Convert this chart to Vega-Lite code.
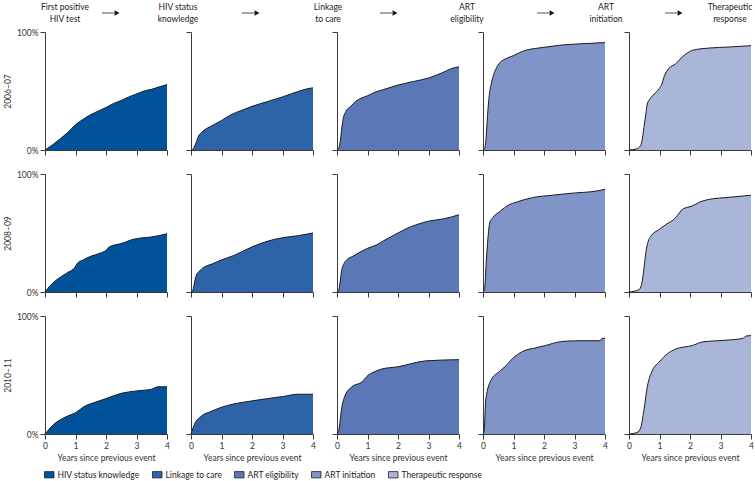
{
"$schema": "https://vega.github.io/schema/vega-lite/v6.json",
"padding": {"left": 3, "top": 0, "right": 0, "bottom": 0},
"background": "white",
"config": {
  "font": "Lato",
  "view": {"stroke": null},
  "axis": {"domainColor": "#3a3a3a", "tickColor": "#3a3a3a", "tickSize": 5, "labelColor": "#333", "labelFontSize": 8.5, "titleFontWeight": "normal", "titleFontSize": 8.5, "titleColor": "#333", "grid": false, "labelPadding": 2, "titlePadding": 4, "labelFlush": false},
  "legend": {"orient": "bottom", "direction": "horizontal", "title": null, "labelFontSize": 8.5, "labelColor": "#222", "symbolType": "M-1.5,-1L1.5,-1L1.5,1L-1.5,1Z", "symbolSize": 40, "symbolStrokeColor": "#222", "symbolStrokeWidth": 0.8, "symbolOpacity": 1, "columnPadding": 10, "offset": 8}
},
"resolve": {"scale": {"x": "independent"}},
"datasets": {
  "curves": [
{"period":"2006–07","stage":"HIV status knowledge","t":0,"p":0},{"period":"2006–07","stage":"HIV status knowledge","t":0.25,"p":0.045},{"period":"2006–07","stage":"HIV status knowledge","t":0.5,"p":0.095},{"period":"2006–07","stage":"HIV status knowledge","t":0.75,"p":0.15},{"period":"2006–07","stage":"HIV status knowledge","t":1,"p":0.215},{"period":"2006–07","stage":"HIV status knowledge","t":1.25,"p":0.26},{"period":"2006–07","stage":"HIV status knowledge","t":1.5,"p":0.3},{"period":"2006–07","stage":"HIV status knowledge","t":1.75,"p":0.33},{"period":"2006–07","stage":"HIV status knowledge","t":2,"p":0.36},{"period":"2006–07","stage":"HIV status knowledge","t":2.25,"p":0.395},{"period":"2006–07","stage":"HIV status knowledge","t":2.5,"p":0.42},{"period":"2006–07","stage":"HIV status knowledge","t":2.75,"p":0.45},{"period":"2006–07","stage":"HIV status knowledge","t":3,"p":0.475},{"period":"2006–07","stage":"HIV status knowledge","t":3.25,"p":0.5},{"period":"2006–07","stage":"HIV status knowledge","t":3.5,"p":0.515},{"period":"2006–07","stage":"HIV status knowledge","t":3.75,"p":0.535},{"period":"2006–07","stage":"HIV status knowledge","t":4,"p":0.555},
{"period":"2006–07","stage":"Linkage to care","t":0,"p":0},{"period":"2006–07","stage":"Linkage to care","t":0.05,"p":0.005},{"period":"2006–07","stage":"Linkage to care","t":0.15,"p":0.05},{"period":"2006–07","stage":"Linkage to care","t":0.25,"p":0.12},{"period":"2006–07","stage":"Linkage to care","t":0.35,"p":0.15},{"period":"2006–07","stage":"Linkage to care","t":0.5,"p":0.18},{"period":"2006–07","stage":"Linkage to care","t":0.75,"p":0.215},{"period":"2006–07","stage":"Linkage to care","t":1,"p":0.25},{"period":"2006–07","stage":"Linkage to care","t":1.25,"p":0.29},{"period":"2006–07","stage":"Linkage to care","t":1.5,"p":0.32},{"period":"2006–07","stage":"Linkage to care","t":1.75,"p":0.345},{"period":"2006–07","stage":"Linkage to care","t":2,"p":0.37},{"period":"2006–07","stage":"Linkage to care","t":2.5,"p":0.41},{"period":"2006–07","stage":"Linkage to care","t":3,"p":0.45},{"period":"2006–07","stage":"Linkage to care","t":3.5,"p":0.495},{"period":"2006–07","stage":"Linkage to care","t":3.75,"p":0.515},{"period":"2006–07","stage":"Linkage to care","t":4,"p":0.527},
{"period":"2006–07","stage":"ART eligibility","t":0,"p":0},{"period":"2006–07","stage":"ART eligibility","t":0.05,"p":0.01},{"period":"2006–07","stage":"ART eligibility","t":0.1,"p":0.06},{"period":"2006–07","stage":"ART eligibility","t":0.15,"p":0.17},{"period":"2006–07","stage":"ART eligibility","t":0.2,"p":0.26},{"period":"2006–07","stage":"ART eligibility","t":0.3,"p":0.33},{"period":"2006–07","stage":"ART eligibility","t":0.45,"p":0.37},{"period":"2006–07","stage":"ART eligibility","t":0.6,"p":0.41},{"period":"2006–07","stage":"ART eligibility","t":0.8,"p":0.44},{"period":"2006–07","stage":"ART eligibility","t":1,"p":0.46},{"period":"2006–07","stage":"ART eligibility","t":1.25,"p":0.49},{"period":"2006–07","stage":"ART eligibility","t":1.5,"p":0.51},{"period":"2006–07","stage":"ART eligibility","t":2,"p":0.55},{"period":"2006–07","stage":"ART eligibility","t":2.5,"p":0.58},{"period":"2006–07","stage":"ART eligibility","t":3,"p":0.61},{"period":"2006–07","stage":"ART eligibility","t":3.5,"p":0.66},{"period":"2006–07","stage":"ART eligibility","t":3.75,"p":0.69},{"period":"2006–07","stage":"ART eligibility","t":4,"p":0.705},
{"period":"2006–07","stage":"ART initiation","t":0,"p":0},{"period":"2006–07","stage":"ART initiation","t":0.05,"p":0.01},{"period":"2006–07","stage":"ART initiation","t":0.1,"p":0.1},{"period":"2006–07","stage":"ART initiation","t":0.15,"p":0.3},{"period":"2006–07","stage":"ART initiation","t":0.2,"p":0.45},{"period":"2006–07","stage":"ART initiation","t":0.27,"p":0.56},{"period":"2006–07","stage":"ART initiation","t":0.35,"p":0.64},{"period":"2006–07","stage":"ART initiation","t":0.43,"p":0.69},{"period":"2006–07","stage":"ART initiation","t":0.55,"p":0.74},{"period":"2006–07","stage":"ART initiation","t":0.65,"p":0.76},{"period":"2006–07","stage":"ART initiation","t":0.8,"p":0.78},{"period":"2006–07","stage":"ART initiation","t":1,"p":0.8},{"period":"2006–07","stage":"ART initiation","t":1.2,"p":0.825},{"period":"2006–07","stage":"ART initiation","t":1.4,"p":0.845},{"period":"2006–07","stage":"ART initiation","t":1.7,"p":0.86},{"period":"2006–07","stage":"ART initiation","t":2,"p":0.87},{"period":"2006–07","stage":"ART initiation","t":2.6,"p":0.89},{"period":"2006–07","stage":"ART initiation","t":3.2,"p":0.9},{"period":"2006–07","stage":"ART initiation","t":4,"p":0.91},
{"period":"2006–07","stage":"Therapeutic response","t":0,"p":0},{"period":"2006–07","stage":"Therapeutic response","t":0.25,"p":0.01},{"period":"2006–07","stage":"Therapeutic response","t":0.38,"p":0.037},{"period":"2006–07","stage":"Therapeutic response","t":0.44,"p":0.1},{"period":"2006–07","stage":"Therapeutic response","t":0.49,"p":0.19},{"period":"2006–07","stage":"Therapeutic response","t":0.55,"p":0.3},{"period":"2006–07","stage":"Therapeutic response","t":0.6,"p":0.39},{"period":"2006–07","stage":"Therapeutic response","t":0.68,"p":0.43},{"period":"2006–07","stage":"Therapeutic response","t":0.77,"p":0.46},{"period":"2006–07","stage":"Therapeutic response","t":0.99,"p":0.52},{"period":"2006–07","stage":"Therapeutic response","t":1.08,"p":0.56},{"period":"2006–07","stage":"Therapeutic response","t":1.15,"p":0.62},{"period":"2006–07","stage":"Therapeutic response","t":1.3,"p":0.69},{"period":"2006–07","stage":"Therapeutic response","t":1.53,"p":0.73},{"period":"2006–07","stage":"Therapeutic response","t":1.75,"p":0.79},{"period":"2006–07","stage":"Therapeutic response","t":1.9,"p":0.82},{"period":"2006–07","stage":"Therapeutic response","t":2.08,"p":0.845},{"period":"2006–07","stage":"Therapeutic response","t":2.63,"p":0.864},{"period":"2006–07","stage":"Therapeutic response","t":3.29,"p":0.873},{"period":"2006–07","stage":"Therapeutic response","t":4,"p":0.884},
{"period":"2008–09","stage":"HIV status knowledge","t":0,"p":0},{"period":"2008–09","stage":"HIV status knowledge","t":0.17,"p":0.054},{"period":"2008–09","stage":"HIV status knowledge","t":0.39,"p":0.105},{"period":"2008–09","stage":"HIV status knowledge","t":0.72,"p":0.161},{"period":"2008–09","stage":"HIV status knowledge","t":0.99,"p":0.212},{"period":"2008–09","stage":"HIV status knowledge","t":1.07,"p":0.246},{"period":"2008–09","stage":"HIV status knowledge","t":1.27,"p":0.274},{"period":"2008–09","stage":"HIV status knowledge","t":1.49,"p":0.302},{"period":"2008–09","stage":"HIV status knowledge","t":1.82,"p":0.33},{"period":"2008–09","stage":"HIV status knowledge","t":2,"p":0.353},{"period":"2008–09","stage":"HIV status knowledge","t":2.1,"p":0.381},{"period":"2008–09","stage":"HIV status knowledge","t":2.49,"p":0.41},{"period":"2008–09","stage":"HIV status knowledge","t":2.93,"p":0.449},{"period":"2008–09","stage":"HIV status knowledge","t":3.15,"p":0.458},{"period":"2008–09","stage":"HIV status knowledge","t":3.48,"p":0.466},{"period":"2008–09","stage":"HIV status knowledge","t":4,"p":0.494},
{"period":"2008–09","stage":"Linkage to care","t":0,"p":0},{"period":"2008–09","stage":"Linkage to care","t":0.05,"p":0.01},{"period":"2008–09","stage":"Linkage to care","t":0.16,"p":0.13},{"period":"2008–09","stage":"Linkage to care","t":0.33,"p":0.19},{"period":"2008–09","stage":"Linkage to care","t":0.76,"p":0.245},{"period":"2008–09","stage":"Linkage to care","t":0.98,"p":0.27},{"period":"2008–09","stage":"Linkage to care","t":1.41,"p":0.31},{"period":"2008–09","stage":"Linkage to care","t":1.98,"p":0.38},{"period":"2008–09","stage":"Linkage to care","t":2.5,"p":0.43},{"period":"2008–09","stage":"Linkage to care","t":3,"p":0.46},{"period":"2008–09","stage":"Linkage to care","t":3.5,"p":0.477},{"period":"2008–09","stage":"Linkage to care","t":4,"p":0.5},
{"period":"2008–09","stage":"ART eligibility","t":0,"p":0},{"period":"2008–09","stage":"ART eligibility","t":0.05,"p":0.01},{"period":"2008–09","stage":"ART eligibility","t":0.1,"p":0.08},{"period":"2008–09","stage":"ART eligibility","t":0.15,"p":0.18},{"period":"2008–09","stage":"ART eligibility","t":0.25,"p":0.25},{"period":"2008–09","stage":"ART eligibility","t":0.35,"p":0.28},{"period":"2008–09","stage":"ART eligibility","t":0.5,"p":0.3},{"period":"2008–09","stage":"ART eligibility","t":0.7,"p":0.33},{"period":"2008–09","stage":"ART eligibility","t":1,"p":0.37},{"period":"2008–09","stage":"ART eligibility","t":1.3,"p":0.4},{"period":"2008–09","stage":"ART eligibility","t":1.5,"p":0.43},{"period":"2008–09","stage":"ART eligibility","t":2,"p":0.5},{"period":"2008–09","stage":"ART eligibility","t":2.3,"p":0.54},{"period":"2008–09","stage":"ART eligibility","t":2.6,"p":0.57},{"period":"2008–09","stage":"ART eligibility","t":3,"p":0.6},{"period":"2008–09","stage":"ART eligibility","t":3.5,"p":0.62},{"period":"2008–09","stage":"ART eligibility","t":4,"p":0.655},
{"period":"2008–09","stage":"ART initiation","t":0,"p":0},{"period":"2008–09","stage":"ART initiation","t":0.05,"p":0.02},{"period":"2008–09","stage":"ART initiation","t":0.11,"p":0.27},{"period":"2008–09","stage":"ART initiation","t":0.16,"p":0.45},{"period":"2008–09","stage":"ART initiation","t":0.22,"p":0.585},{"period":"2008–09","stage":"ART initiation","t":0.32,"p":0.63},{"period":"2008–09","stage":"ART initiation","t":0.54,"p":0.68},{"period":"2008–09","stage":"ART initiation","t":0.86,"p":0.74},{"period":"2008–09","stage":"ART initiation","t":1.08,"p":0.76},{"period":"2008–09","stage":"ART initiation","t":1.62,"p":0.8},{"period":"2008–09","stage":"ART initiation","t":2.27,"p":0.82},{"period":"2008–09","stage":"ART initiation","t":3.03,"p":0.84},{"period":"2008–09","stage":"ART initiation","t":3.57,"p":0.85},{"period":"2008–09","stage":"ART initiation","t":4,"p":0.87},
{"period":"2008–09","stage":"Therapeutic response","t":0,"p":0},{"period":"2008–09","stage":"Therapeutic response","t":0.33,"p":0.02},{"period":"2008–09","stage":"Therapeutic response","t":0.44,"p":0.1},{"period":"2008–09","stage":"Therapeutic response","t":0.5,"p":0.22},{"period":"2008–09","stage":"Therapeutic response","t":0.55,"p":0.33},{"period":"2008–09","stage":"Therapeutic response","t":0.63,"p":0.43},{"period":"2008–09","stage":"Therapeutic response","t":0.71,"p":0.47},{"period":"2008–09","stage":"Therapeutic response","t":0.99,"p":0.53},{"period":"2008–09","stage":"Therapeutic response","t":1.2,"p":0.57},{"period":"2008–09","stage":"Therapeutic response","t":1.53,"p":0.63},{"period":"2008–09","stage":"Therapeutic response","t":1.65,"p":0.67},{"period":"2008–09","stage":"Therapeutic response","t":1.75,"p":0.7},{"period":"2008–09","stage":"Therapeutic response","t":2.08,"p":0.73},{"period":"2008–09","stage":"Therapeutic response","t":2.3,"p":0.76},{"period":"2008–09","stage":"Therapeutic response","t":2.74,"p":0.79},{"period":"2008–09","stage":"Therapeutic response","t":3.18,"p":0.8},{"period":"2008–09","stage":"Therapeutic response","t":4,"p":0.82},
{"period":"2010–11","stage":"HIV status knowledge","t":0,"p":0},{"period":"2010–11","stage":"HIV status knowledge","t":0.28,"p":0.08},{"period":"2010–11","stage":"HIV status knowledge","t":0.72,"p":0.15},{"period":"2010–11","stage":"HIV status knowledge","t":1,"p":0.18},{"period":"2010–11","stage":"HIV status knowledge","t":1.27,"p":0.23},{"period":"2010–11","stage":"HIV status knowledge","t":1.71,"p":0.275},{"period":"2010–11","stage":"HIV status knowledge","t":2,"p":0.3},{"period":"2010–11","stage":"HIV status knowledge","t":2.5,"p":0.345},{"period":"2010–11","stage":"HIV status knowledge","t":3,"p":0.365},{"period":"2010–11","stage":"HIV status knowledge","t":3.5,"p":0.38},{"period":"2010–11","stage":"HIV status knowledge","t":3.7,"p":0.4},{"period":"2010–11","stage":"HIV status knowledge","t":4,"p":0.4},
{"period":"2010–11","stage":"Linkage to care","t":0,"p":0},{"period":"2010–11","stage":"Linkage to care","t":0.11,"p":0.08},{"period":"2010–11","stage":"Linkage to care","t":0.33,"p":0.15},{"period":"2010–11","stage":"Linkage to care","t":0.65,"p":0.19},{"period":"2010–11","stage":"Linkage to care","t":0.98,"p":0.225},{"period":"2010–11","stage":"Linkage to care","t":1.41,"p":0.255},{"period":"2010–11","stage":"Linkage to care","t":1.98,"p":0.28},{"period":"2010–11","stage":"Linkage to care","t":2.5,"p":0.3},{"period":"2010–11","stage":"Linkage to care","t":3,"p":0.317},{"period":"2010–11","stage":"Linkage to care","t":3.5,"p":0.337},{"period":"2010–11","stage":"Linkage to care","t":4,"p":0.337},
{"period":"2010–11","stage":"ART eligibility","t":0,"p":0},{"period":"2010–11","stage":"ART eligibility","t":0.05,"p":0.02},{"period":"2010–11","stage":"ART eligibility","t":0.16,"p":0.23},{"period":"2010–11","stage":"ART eligibility","t":0.27,"p":0.33},{"period":"2010–11","stage":"ART eligibility","t":0.49,"p":0.4},{"period":"2010–11","stage":"ART eligibility","t":0.81,"p":0.44},{"period":"2010–11","stage":"ART eligibility","t":1.03,"p":0.5},{"period":"2010–11","stage":"ART eligibility","t":1.3,"p":0.535},{"period":"2010–11","stage":"ART eligibility","t":1.46,"p":0.55},{"period":"2010–11","stage":"ART eligibility","t":2,"p":0.57},{"period":"2010–11","stage":"ART eligibility","t":2.92,"p":0.62},{"period":"2010–11","stage":"ART eligibility","t":4,"p":0.63},
{"period":"2010–11","stage":"ART initiation","t":0,"p":0},{"period":"2010–11","stage":"ART initiation","t":0.04,"p":0.03},{"period":"2010–11","stage":"ART initiation","t":0.09,"p":0.29},{"period":"2010–11","stage":"ART initiation","t":0.27,"p":0.46},{"period":"2010–11","stage":"ART initiation","t":0.54,"p":0.53},{"period":"2010–11","stage":"ART initiation","t":0.76,"p":0.58},{"period":"2010–11","stage":"ART initiation","t":0.97,"p":0.64},{"period":"2010–11","stage":"ART initiation","t":1.3,"p":0.7},{"period":"2010–11","stage":"ART initiation","t":1.73,"p":0.73},{"period":"2010–11","stage":"ART initiation","t":2.05,"p":0.75},{"period":"2010–11","stage":"ART initiation","t":2.49,"p":0.78},{"period":"2010–11","stage":"ART initiation","t":3.03,"p":0.79},{"period":"2010–11","stage":"ART initiation","t":3.84,"p":0.79},{"period":"2010–11","stage":"ART initiation","t":3.9,"p":0.81},{"period":"2010–11","stage":"ART initiation","t":4,"p":0.81},
{"period":"2010–11","stage":"Therapeutic response","t":0,"p":0},{"period":"2010–11","stage":"Therapeutic response","t":0.27,"p":0.014},{"period":"2010–11","stage":"Therapeutic response","t":0.38,"p":0.05},{"period":"2010–11","stage":"Therapeutic response","t":0.49,"p":0.205},{"period":"2010–11","stage":"Therapeutic response","t":0.6,"p":0.4},{"period":"2010–11","stage":"Therapeutic response","t":0.77,"p":0.54},{"period":"2010–11","stage":"Therapeutic response","t":0.99,"p":0.61},{"period":"2010–11","stage":"Therapeutic response","t":1.26,"p":0.68},{"period":"2010–11","stage":"Therapeutic response","t":1.53,"p":0.72},{"period":"2010–11","stage":"Therapeutic response","t":2.08,"p":0.75},{"period":"2010–11","stage":"Therapeutic response","t":2.41,"p":0.78},{"period":"2010–11","stage":"Therapeutic response","t":3.18,"p":0.795},{"period":"2010–11","stage":"Therapeutic response","t":3.73,"p":0.81},{"period":"2010–11","stage":"Therapeutic response","t":3.84,"p":0.83},{"period":"2010–11","stage":"Therapeutic response","t":4,"p":0.834}
  ],
  "header": [
    {"col":1,"slot":"start","label":["First positive","HIV test"]},{"col":1,"slot":"mid"},
    {"col":2,"slot":"start","label":["HIV status","knowledge"]},{"col":2,"slot":"mid"},
    {"col":3,"slot":"start","label":["Linkage","to care"]},{"col":3,"slot":"mid"},
    {"col":4,"slot":"start","label":["ART","eligibility"]},{"col":4,"slot":"mid"},
    {"col":5,"slot":"start","label":["ART","initiation"]},{"col":5,"slot":"mid"},
    {"col":5,"slot":"end","label":["Therapeutic","response"]}
  ]
},
"data": {"name": "curves"},
"columns": 5,
"bounds": "flush",
"spacing": {"row": 24, "column": 24},
"concat": [
  {"width":122,"height":8,"data":{"name":"header"},"transform":[{"filter":"datum.col === 1"}],"encoding":{"x":{"field":"slot","type":"nominal","scale":{"type":"point","domain":["start","mid","end"],"padding":0},"axis":null}},"layer":[
    {"transform":[{"filter":"datum.slot === 'start'"}],"mark":{"type":"text","align":"center","baseline":"middle","fontSize":8.5,"lineHeight":12,"color":"#222","dy":3,"dx":20},"encoding":{"text":{"field":"label"}}},
    {"transform":[{"filter":"datum.slot === 'mid'"}],"mark":{"type":"rule","color":"#777","strokeWidth":1.3,"xOffset":-4,"x2Offset":8,"yOffset":9},"encoding":{"x2":{"field":"slot"}}},
    {"transform":[{"filter":"datum.slot === 'mid'"}],"mark":{"type":"point","shape":"triangle-right","filled":true,"color":"#111","opacity":1,"size":32,"xOffset":11,"yOffset":9},"encoding":{}}]},
  {"width":122,"height":8,"data":{"name":"header"},"transform":[{"filter":"datum.col === 2"}],"encoding":{"x":{"field":"slot","type":"nominal","scale":{"type":"point","domain":["start","mid","end"],"padding":0},"axis":null}},"layer":[
    {"transform":[{"filter":"datum.slot === 'start'"}],"mark":{"type":"text","align":"center","baseline":"middle","fontSize":8.5,"lineHeight":12,"color":"#222","dy":3,"dx":-13},"encoding":{"text":{"field":"label"}}},
    {"transform":[{"filter":"datum.slot === 'mid'"}],"mark":{"type":"rule","color":"#777","strokeWidth":1.3,"xOffset":-10,"x2Offset":2,"yOffset":9},"encoding":{"x2":{"field":"slot"}}},
    {"transform":[{"filter":"datum.slot === 'mid'"}],"mark":{"type":"point","shape":"triangle-right","filled":true,"color":"#111","opacity":1,"size":32,"xOffset":5,"yOffset":9},"encoding":{}}]},
  {"width":122,"height":8,"data":{"name":"header"},"transform":[{"filter":"datum.col === 3"}],"encoding":{"x":{"field":"slot","type":"nominal","scale":{"type":"point","domain":["start","mid","end"],"padding":0},"axis":null}},"layer":[
    {"transform":[{"filter":"datum.slot === 'start'"}],"mark":{"type":"text","align":"center","baseline":"middle","fontSize":8.5,"lineHeight":12,"color":"#222","dy":3,"dx":-9},"encoding":{"text":{"field":"label"}}},
    {"transform":[{"filter":"datum.slot === 'mid'"}],"mark":{"type":"rule","color":"#777","strokeWidth":1.3,"xOffset":-18,"x2Offset":-6,"yOffset":9},"encoding":{"x2":{"field":"slot"}}},
    {"transform":[{"filter":"datum.slot === 'mid'"}],"mark":{"type":"point","shape":"triangle-right","filled":true,"color":"#111","opacity":1,"size":32,"xOffset":-3,"yOffset":9},"encoding":{}}]},
  {"width":122,"height":8,"data":{"name":"header"},"transform":[{"filter":"datum.col === 4"}],"encoding":{"x":{"field":"slot","type":"nominal","scale":{"type":"point","domain":["start","mid","end"],"padding":0},"axis":null}},"layer":[
    {"transform":[{"filter":"datum.slot === 'start'"}],"mark":{"type":"text","align":"center","baseline":"middle","fontSize":8.5,"lineHeight":12,"color":"#222","dy":3,"dx":-16},"encoding":{"text":{"field":"label"}}},
    {"transform":[{"filter":"datum.slot === 'mid'"}],"mark":{"type":"rule","color":"#777","strokeWidth":1.3,"xOffset":-7,"x2Offset":5,"yOffset":9},"encoding":{"x2":{"field":"slot"}}},
    {"transform":[{"filter":"datum.slot === 'mid'"}],"mark":{"type":"point","shape":"triangle-right","filled":true,"color":"#111","opacity":1,"size":32,"xOffset":8,"yOffset":9},"encoding":{}}]},
  {"width":122,"height":8,"data":{"name":"header"},"transform":[{"filter":"datum.col === 5"}],"encoding":{"x":{"field":"slot","type":"nominal","scale":{"type":"point","domain":["start","mid","end"],"padding":0},"axis":null}},"layer":[
    {"transform":[{"filter":"datum.slot === 'start'"}],"mark":{"type":"text","align":"center","baseline":"middle","fontSize":8.5,"lineHeight":12,"color":"#222","dy":3,"dx":-23},"encoding":{"text":{"field":"label"}}},
    {"transform":[{"filter":"datum.slot === 'end'"}],"mark":{"type":"text","align":"center","baseline":"middle","fontSize":8.5,"lineHeight":12,"color":"#222","dy":3,"dx":-21},"encoding":{"text":{"field":"label"}}},
    {"transform":[{"filter":"datum.slot === 'mid'"}],"mark":{"type":"rule","color":"#777","strokeWidth":1.3,"xOffset":-25,"x2Offset":-13,"yOffset":9},"encoding":{"x2":{"field":"slot"}}},
    {"transform":[{"filter":"datum.slot === 'mid'"}],"mark":{"type":"point","shape":"triangle-right","filled":true,"color":"#111","opacity":1,"size":32,"xOffset":-10,"yOffset":9},"encoding":{}}]},

  {"width":122,"height":118,"transform":[{"filter":"datum.period === '2006–07' && datum.stage === 'HIV status knowledge'"}],"encoding":{"x":{"field":"t","type":"quantitative","scale":{"domain":[0,4],"nice":false},"axis":{"values":[0,1,2,3,4],"labels":false,"title":null}},"y":{"field":"p","type":"quantitative","scale":{"domain":[0,1],"nice":false},"axis":{"values":[0,1],"format":".0%","title":"2006–07"}}},"layer":[{"mark":{"type":"area","opacity":1,"interpolate":"monotone"},"encoding":{"color":{"field":"stage","type":"nominal","scale":{"domain":["HIV status knowledge","Linkage to care","ART eligibility","ART initiation","Therapeutic response"],"range":["#00529b","#2f63a8","#5a77b6","#8094c7","#a9b5d9"]}}}},{"mark":{"type":"line","color":"#1c1c1c","strokeWidth":1,"interpolate":"monotone"},"encoding":{}}]},
  {"width":122,"height":118,"transform":[{"filter":"datum.period === '2006–07' && datum.stage === 'Linkage to care'"}],"encoding":{"x":{"field":"t","type":"quantitative","scale":{"domain":[0,4],"nice":false},"axis":{"values":[0,1,2,3,4],"labels":false,"title":null}},"y":{"field":"p","type":"quantitative","scale":{"domain":[0,1],"nice":false},"axis":{"values":[0,1],"labels":false,"title":null}}},"layer":[{"mark":{"type":"area","opacity":1,"interpolate":"monotone"},"encoding":{"color":{"field":"stage","type":"nominal","scale":{"domain":["HIV status knowledge","Linkage to care","ART eligibility","ART initiation","Therapeutic response"],"range":["#00529b","#2f63a8","#5a77b6","#8094c7","#a9b5d9"]}}}},{"mark":{"type":"line","color":"#1c1c1c","strokeWidth":1,"interpolate":"monotone"},"encoding":{}}]},
  {"width":122,"height":118,"transform":[{"filter":"datum.period === '2006–07' && datum.stage === 'ART eligibility'"}],"encoding":{"x":{"field":"t","type":"quantitative","scale":{"domain":[0,4],"nice":false},"axis":{"values":[0,1,2,3,4],"labels":false,"title":null}},"y":{"field":"p","type":"quantitative","scale":{"domain":[0,1],"nice":false},"axis":{"values":[0,1],"labels":false,"title":null}}},"layer":[{"mark":{"type":"area","opacity":1,"interpolate":"monotone"},"encoding":{"color":{"field":"stage","type":"nominal","scale":{"domain":["HIV status knowledge","Linkage to care","ART eligibility","ART initiation","Therapeutic response"],"range":["#00529b","#2f63a8","#5a77b6","#8094c7","#a9b5d9"]}}}},{"mark":{"type":"line","color":"#1c1c1c","strokeWidth":1,"interpolate":"monotone"},"encoding":{}}]},
  {"width":122,"height":118,"transform":[{"filter":"datum.period === '2006–07' && datum.stage === 'ART initiation'"}],"encoding":{"x":{"field":"t","type":"quantitative","scale":{"domain":[0,4],"nice":false},"axis":{"values":[0,1,2,3,4],"labels":false,"title":null}},"y":{"field":"p","type":"quantitative","scale":{"domain":[0,1],"nice":false},"axis":{"values":[0,1],"labels":false,"title":null}}},"layer":[{"mark":{"type":"area","opacity":1,"interpolate":"monotone"},"encoding":{"color":{"field":"stage","type":"nominal","scale":{"domain":["HIV status knowledge","Linkage to care","ART eligibility","ART initiation","Therapeutic response"],"range":["#00529b","#2f63a8","#5a77b6","#8094c7","#a9b5d9"]}}}},{"mark":{"type":"line","color":"#1c1c1c","strokeWidth":1,"interpolate":"monotone"},"encoding":{}}]},
  {"width":122,"height":118,"transform":[{"filter":"datum.period === '2006–07' && datum.stage === 'Therapeutic response'"}],"encoding":{"x":{"field":"t","type":"quantitative","scale":{"domain":[0,4],"nice":false},"axis":{"values":[0,1,2,3,4],"labels":false,"title":null}},"y":{"field":"p","type":"quantitative","scale":{"domain":[0,1],"nice":false},"axis":{"values":[0,1],"labels":false,"title":null}}},"layer":[{"mark":{"type":"area","opacity":1,"interpolate":"monotone"},"encoding":{"color":{"field":"stage","type":"nominal","scale":{"domain":["HIV status knowledge","Linkage to care","ART eligibility","ART initiation","Therapeutic response"],"range":["#00529b","#2f63a8","#5a77b6","#8094c7","#a9b5d9"]}}}},{"mark":{"type":"line","color":"#1c1c1c","strokeWidth":1,"interpolate":"monotone"},"encoding":{}}]},

  {"width":122,"height":118,"transform":[{"filter":"datum.period === '2008–09' && datum.stage === 'HIV status knowledge'"}],"encoding":{"x":{"field":"t","type":"quantitative","scale":{"domain":[0,4],"nice":false},"axis":{"values":[0,1,2,3,4],"labels":false,"title":null}},"y":{"field":"p","type":"quantitative","scale":{"domain":[0,1],"nice":false},"axis":{"values":[0,1],"format":".0%","title":"2008–09"}}},"layer":[{"mark":{"type":"area","opacity":1,"interpolate":"monotone"},"encoding":{"color":{"field":"stage","type":"nominal","scale":{"domain":["HIV status knowledge","Linkage to care","ART eligibility","ART initiation","Therapeutic response"],"range":["#00529b","#2f63a8","#5a77b6","#8094c7","#a9b5d9"]}}}},{"mark":{"type":"line","color":"#1c1c1c","strokeWidth":1,"interpolate":"monotone"},"encoding":{}}]},
  {"width":122,"height":118,"transform":[{"filter":"datum.period === '2008–09' && datum.stage === 'Linkage to care'"}],"encoding":{"x":{"field":"t","type":"quantitative","scale":{"domain":[0,4],"nice":false},"axis":{"values":[0,1,2,3,4],"labels":false,"title":null}},"y":{"field":"p","type":"quantitative","scale":{"domain":[0,1],"nice":false},"axis":{"values":[0,1],"labels":false,"title":null}}},"layer":[{"mark":{"type":"area","opacity":1,"interpolate":"monotone"},"encoding":{"color":{"field":"stage","type":"nominal","scale":{"domain":["HIV status knowledge","Linkage to care","ART eligibility","ART initiation","Therapeutic response"],"range":["#00529b","#2f63a8","#5a77b6","#8094c7","#a9b5d9"]}}}},{"mark":{"type":"line","color":"#1c1c1c","strokeWidth":1,"interpolate":"monotone"},"encoding":{}}]},
  {"width":122,"height":118,"transform":[{"filter":"datum.period === '2008–09' && datum.stage === 'ART eligibility'"}],"encoding":{"x":{"field":"t","type":"quantitative","scale":{"domain":[0,4],"nice":false},"axis":{"values":[0,1,2,3,4],"labels":false,"title":null}},"y":{"field":"p","type":"quantitative","scale":{"domain":[0,1],"nice":false},"axis":{"values":[0,1],"labels":false,"title":null}}},"layer":[{"mark":{"type":"area","opacity":1,"interpolate":"monotone"},"encoding":{"color":{"field":"stage","type":"nominal","scale":{"domain":["HIV status knowledge","Linkage to care","ART eligibility","ART initiation","Therapeutic response"],"range":["#00529b","#2f63a8","#5a77b6","#8094c7","#a9b5d9"]}}}},{"mark":{"type":"line","color":"#1c1c1c","strokeWidth":1,"interpolate":"monotone"},"encoding":{}}]},
  {"width":122,"height":118,"transform":[{"filter":"datum.period === '2008–09' && datum.stage === 'ART initiation'"}],"encoding":{"x":{"field":"t","type":"quantitative","scale":{"domain":[0,4],"nice":false},"axis":{"values":[0,1,2,3,4],"labels":false,"title":null}},"y":{"field":"p","type":"quantitative","scale":{"domain":[0,1],"nice":false},"axis":{"values":[0,1],"labels":false,"title":null}}},"layer":[{"mark":{"type":"area","opacity":1,"interpolate":"monotone"},"encoding":{"color":{"field":"stage","type":"nominal","scale":{"domain":["HIV status knowledge","Linkage to care","ART eligibility","ART initiation","Therapeutic response"],"range":["#00529b","#2f63a8","#5a77b6","#8094c7","#a9b5d9"]}}}},{"mark":{"type":"line","color":"#1c1c1c","strokeWidth":1,"interpolate":"monotone"},"encoding":{}}]},
  {"width":122,"height":118,"transform":[{"filter":"datum.period === '2008–09' && datum.stage === 'Therapeutic response'"}],"encoding":{"x":{"field":"t","type":"quantitative","scale":{"domain":[0,4],"nice":false},"axis":{"values":[0,1,2,3,4],"labels":false,"title":null}},"y":{"field":"p","type":"quantitative","scale":{"domain":[0,1],"nice":false},"axis":{"values":[0,1],"labels":false,"title":null}}},"layer":[{"mark":{"type":"area","opacity":1,"interpolate":"monotone"},"encoding":{"color":{"field":"stage","type":"nominal","scale":{"domain":["HIV status knowledge","Linkage to care","ART eligibility","ART initiation","Therapeutic response"],"range":["#00529b","#2f63a8","#5a77b6","#8094c7","#a9b5d9"]}}}},{"mark":{"type":"line","color":"#1c1c1c","strokeWidth":1,"interpolate":"monotone"},"encoding":{}}]},

  {"width":122,"height":118,"transform":[{"filter":"datum.period === '2010–11' && datum.stage === 'HIV status knowledge'"}],"encoding":{"x":{"field":"t","type":"quantitative","scale":{"domain":[0,4],"nice":false},"axis":{"values":[0,1,2,3,4],"title":"Years since previous event"}},"y":{"field":"p","type":"quantitative","scale":{"domain":[0,1],"nice":false},"axis":{"values":[0,1],"format":".0%","title":"2010–11"}}},"layer":[{"mark":{"type":"area","opacity":1,"interpolate":"monotone"},"encoding":{"color":{"field":"stage","type":"nominal","scale":{"domain":["HIV status knowledge","Linkage to care","ART eligibility","ART initiation","Therapeutic response"],"range":["#00529b","#2f63a8","#5a77b6","#8094c7","#a9b5d9"]}}}},{"mark":{"type":"line","color":"#1c1c1c","strokeWidth":1,"interpolate":"monotone"},"encoding":{}}]},
  {"width":122,"height":118,"transform":[{"filter":"datum.period === '2010–11' && datum.stage === 'Linkage to care'"}],"encoding":{"x":{"field":"t","type":"quantitative","scale":{"domain":[0,4],"nice":false},"axis":{"values":[0,1,2,3,4],"title":"Years since previous event"}},"y":{"field":"p","type":"quantitative","scale":{"domain":[0,1],"nice":false},"axis":{"values":[0,1],"labels":false,"title":null}}},"layer":[{"mark":{"type":"area","opacity":1,"interpolate":"monotone"},"encoding":{"color":{"field":"stage","type":"nominal","scale":{"domain":["HIV status knowledge","Linkage to care","ART eligibility","ART initiation","Therapeutic response"],"range":["#00529b","#2f63a8","#5a77b6","#8094c7","#a9b5d9"]}}}},{"mark":{"type":"line","color":"#1c1c1c","strokeWidth":1,"interpolate":"monotone"},"encoding":{}}]},
  {"width":122,"height":118,"transform":[{"filter":"datum.period === '2010–11' && datum.stage === 'ART eligibility'"}],"encoding":{"x":{"field":"t","type":"quantitative","scale":{"domain":[0,4],"nice":false},"axis":{"values":[0,1,2,3,4],"title":"Years since previous event"}},"y":{"field":"p","type":"quantitative","scale":{"domain":[0,1],"nice":false},"axis":{"values":[0,1],"labels":false,"title":null}}},"layer":[{"mark":{"type":"area","opacity":1,"interpolate":"monotone"},"encoding":{"color":{"field":"stage","type":"nominal","scale":{"domain":["HIV status knowledge","Linkage to care","ART eligibility","ART initiation","Therapeutic response"],"range":["#00529b","#2f63a8","#5a77b6","#8094c7","#a9b5d9"]}}}},{"mark":{"type":"line","color":"#1c1c1c","strokeWidth":1,"interpolate":"monotone"},"encoding":{}}]},
  {"width":122,"height":118,"transform":[{"filter":"datum.period === '2010–11' && datum.stage === 'ART initiation'"}],"encoding":{"x":{"field":"t","type":"quantitative","scale":{"domain":[0,4],"nice":false},"axis":{"values":[0,1,2,3,4],"title":"Years since previous event"}},"y":{"field":"p","type":"quantitative","scale":{"domain":[0,1],"nice":false},"axis":{"values":[0,1],"labels":false,"title":null}}},"layer":[{"mark":{"type":"area","opacity":1,"interpolate":"monotone"},"encoding":{"color":{"field":"stage","type":"nominal","scale":{"domain":["HIV status knowledge","Linkage to care","ART eligibility","ART initiation","Therapeutic response"],"range":["#00529b","#2f63a8","#5a77b6","#8094c7","#a9b5d9"]}}}},{"mark":{"type":"line","color":"#1c1c1c","strokeWidth":1,"interpolate":"monotone"},"encoding":{}}]},
  {"width":122,"height":118,"transform":[{"filter":"datum.period === '2010–11' && datum.stage === 'Therapeutic response'"}],"encoding":{"x":{"field":"t","type":"quantitative","scale":{"domain":[0,4],"nice":false},"axis":{"values":[0,1,2,3,4],"title":"Years since previous event"}},"y":{"field":"p","type":"quantitative","scale":{"domain":[0,1],"nice":false},"axis":{"values":[0,1],"labels":false,"title":null}}},"layer":[{"mark":{"type":"area","opacity":1,"interpolate":"monotone"},"encoding":{"color":{"field":"stage","type":"nominal","scale":{"domain":["HIV status knowledge","Linkage to care","ART eligibility","ART initiation","Therapeutic response"],"range":["#00529b","#2f63a8","#5a77b6","#8094c7","#a9b5d9"]}}}},{"mark":{"type":"line","color":"#1c1c1c","strokeWidth":1,"interpolate":"monotone"},"encoding":{}}]}
]
}
